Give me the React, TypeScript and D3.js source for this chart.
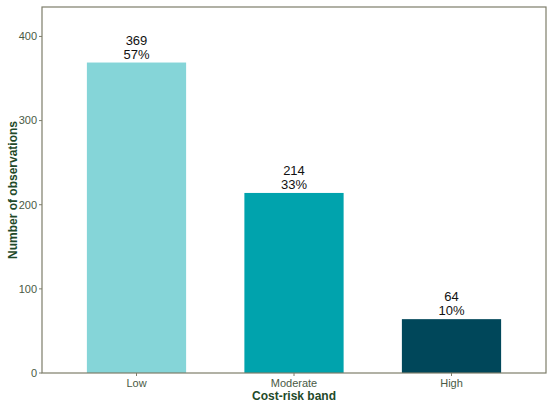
import React from "react";
import * as d3 from "d3";

const bands = ["Low", "Moderate", "High"];
const counts = [369, 214, 64];
const shares = ["57%", "33%", "10%"];
const barColors = ["#85D5D8", "#00A3AD", "#00475A"];
const yTicks = [0, 100, 200, 300, 400];

const App: React.FC = () => {
  const width = 550;
  const height = 405;
  const margin = { top: 7, right: 4, bottom: 32, left: 42 };
  const innerW = width - margin.left - margin.right;
  const innerH = height - margin.top - margin.bottom;

  const x = d3.scalePoint<string>().domain(bands).range([0, innerW]).padding(0.6);
  const step = x.step();
  const barW = step * 0.63;
  const y = d3.scaleLinear().domain([0, 435]).range([innerH, 0]);

  const axisColor = "#7d7d6a";
  const tickText = "#4a5a45";
  const titleColor = "#1f4a2a";
  const font = "'Liberation Sans', Arial, sans-serif";

  return (
    <svg width={width} height={height} style={{ position: "absolute", left: 0, top: 0 }} fontFamily={font}>
      <g transform={`translate(${margin.left},${margin.top})`}>
        {/* bars */}
        {bands.map((b, i) => (
          <rect
            key={b}
            x={(x(b) as number) - barW / 2}
            y={y(counts[i])}
            width={barW}
            height={innerH - y(counts[i])}
            fill={barColors[i]}
          />
        ))}
        {/* labels */}
        {bands.map((b, i) => (
          <text key={b} x={x(b) as number} textAnchor="middle" fontSize={13} fill="#111">
            <tspan x={x(b) as number} y={y(counts[i]) - 18}>{counts[i]}</tspan>
            <tspan x={x(b) as number} y={y(counts[i]) - 4}>{shares[i]}</tspan>
          </text>
        ))}
        {/* panel border */}
        <rect x={0} y={0} width={innerW} height={innerH} fill="none" stroke={axisColor} strokeWidth={1.2} />
        {/* y ticks */}
        {yTicks.map((t) => (
          <g key={t} transform={`translate(0,${y(t)})`}>
            <line x1={-3} x2={0} stroke={axisColor} />
            <text x={-5} dy="0.35em" textAnchor="end" fontSize={11} fill={tickText}>{t}</text>
          </g>
        ))}
        {/* x ticks */}
        {bands.map((b) => (
          <g key={b} transform={`translate(${x(b)},${innerH})`}>
            <line y1={0} y2={3} stroke={axisColor} />
            <text y={14} textAnchor="middle" fontSize={11} fill={tickText}>{b}</text>
          </g>
        ))}
      </g>
      <text x={margin.left + innerW / 2} y={400} textAnchor="middle" fontSize={12} fontWeight="bold" fill={titleColor}>
        Cost-risk band
      </text>
      <text
        transform={`translate(17,${margin.top + innerH / 2}) rotate(-90)`}
        textAnchor="middle"
        fontSize={12}
        fontWeight="bold"
        fill={titleColor}
      >
        Number of observations
      </text>
    </svg>
  );
};

export default App;
